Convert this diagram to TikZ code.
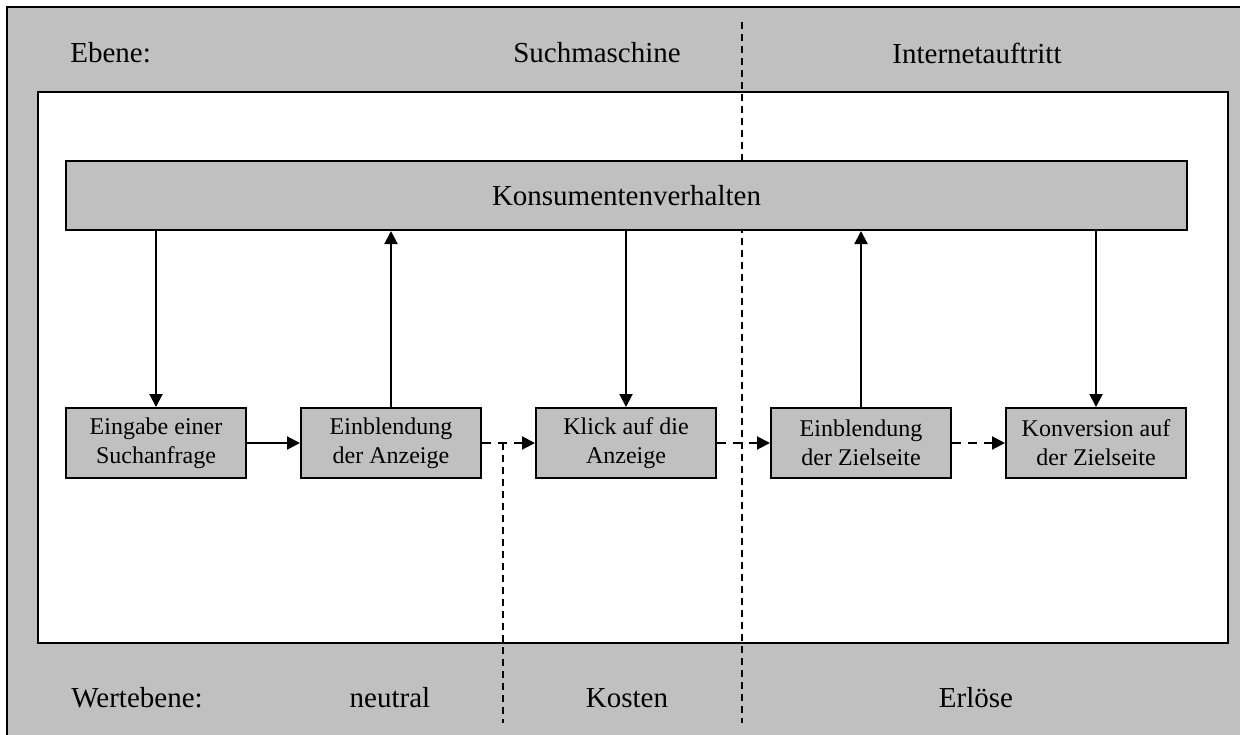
\documentclass[tikz,border=0pt]{standalone}
\usepackage{fontspec}
\setmainfont{Liberation Serif}
\usetikzlibrary{arrows.meta}
\definecolor{silver}{RGB}{192,192,192}
\tikzset{
        box/.style={draw, fill=silver, line width=1pt, minimum width=90pt, minimum height=35pt, inner sep=0pt, align=center, font=\fontsize{12}{14.5}\selectfont},
        lbl/.style={inner sep=0pt, font=\fontsize{14.5}{17}\selectfont},
        flow/.style={line width=1pt, -{Triangle[length=6.5pt,width=6.5pt]}},
        flowdash/.style={flow, dash pattern=on 4.5pt off 3.5pt},
        sep/.style={line width=0.75pt, dash pattern=on 3.5pt off 2.5pt}
}

\begin{document}
\begin{tikzpicture}[x=0.5pt, y=-0.5pt]
        \clip (0,0) rectangle (1240,734);
        \filldraw [fill=silver, line width=1pt] (7,7) rectangle (1260,760);
        \filldraw [fill=white, line width=1pt] (38,92) rectangle (1228,643);

        \coordinate (S1) at (742,22);
        \coordinate (S2) at (742,723);
        \coordinate (K1) at (503,443);
        \coordinate (K2) at (503,723);

        \draw [sep] (S1)--(S2);
        \draw [sep] (K1)--(K2);

        \node[lbl, anchor=base west] (ebene) at (70,62) {Ebene:};
        \node[lbl, anchor=base] (such) at (597,62) {Suchmaschine};
        \node[lbl, anchor=base] (inet) at (977,63) {Internetauftritt};

        \node[lbl, anchor=base west] (wert) at (71,707) {Wertebene:};
        \node[lbl, anchor=base] (neutral) at (390,707) {neutral};
        \node[lbl, anchor=base] (kosten) at (627,707) {Kosten};
        \node[lbl, anchor=base] (erloese) at (976,707) {Erlöse};

        \node[box, minimum width=560.5pt, minimum height=34.5pt, font=\fontsize{14.5}{17}\selectfont] (konsum) at (626.5,195.5) {Konsumentenverhalten};

        \node[box] (eingabe) at (156,443) {Eingabe einer\\Suchanfrage};
        \node[box] (anzeige) at (391,443) {Einblendung\\der Anzeige};
        \node[box] (klick) at (626,443) {Klick auf die\\Anzeige};
        \node[box] (ziel) at (861,443) {Einblendung\\der Zielseite};
        \node[box] (konv) at (1096,443) {Konversion auf\\der Zielseite};

        \draw [flow] (eingabe.east)--(anzeige.west);
        \draw [flowdash] (anzeige.east)--(klick.west);
        \draw [flowdash] (klick.east)--(ziel.west);
        \draw [flowdash] (ziel.east)--(konv.west);

        \draw [flow] (eingabe.north |- konsum.south)--(eingabe.north);
        \draw [flow] (anzeige.north)--(anzeige.north |- konsum.south);
        \draw [flow] (klick.north |- konsum.south)--(klick.north);
        \draw [flow] (ziel.north)--(ziel.north |- konsum.south);
        \draw [flow] (konv.north |- konsum.south)--(konv.north);
\end{tikzpicture}
\end{document}
